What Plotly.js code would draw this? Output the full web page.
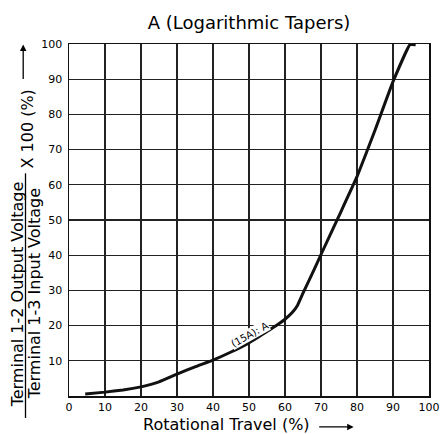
<!DOCTYPE html>
<html>
<head>
<meta charset="utf-8">
<script src="https://cdn.plot.ly/plotly-3.0.1.min.js"></script>
<style>
html,body{margin:0;padding:0;background:#fff;}
#chart{width:441px;height:434px;}
</style>
</head>
<body>
<div id="chart"></div>
<script>
// Data
var travel = [4.5, 10, 15, 20, 25, 30, 35, 40, 45, 50, 55, 58, 60, 62, 63.5, 65, 67.5, 70, 75, 80, 85, 90, 94.7, 96.3];
var output = [0.6, 1.1, 1.7, 2.6, 4.0, 6.2, 8.3, 10.2, 12.5, 15.1, 18.3, 20.3, 21.8, 23.7, 25.8, 29.2, 34.6, 40.2, 51.2, 62.3, 75.5, 89.3, 99.8, 99.8];
var xTicks = [0, 10, 20, 30, 40, 50, 60, 70, 80, 90, 100];
var yTicks = [10, 20, 30, 40, 50, 60, 70, 80, 90, 100];
var titleText = "A (Logarithmic Tapers)";
var xTitle = "Rotational Travel (%)";
var yNumerator = "Terminal 1-2 Output Voltage";
var yDenominator = "Terminal 1-3 Input Voltage";
var yFactor = "X 100 (%)";
var curveLabel = "(15A): A";
var curveLabelPos = [50.2, 17.6];

var FONT = "DejaVu Sans, Verdana, sans-serif";
var L = 69.3, R = 429.3, T = 43.5, B = 396;
var W = R - L, H = B - T;
function px(x){ return (x - L) / W; }
function py(y){ return (B - y) / H; }

var trace = {
  x: travel, y: output, type: 'scatter', mode: 'lines',
  line: {color: '#111', width: 3, shape: 'spline', smoothing: 0.3},
  cliponaxis: false, hoverinfo: 'skip'
};

var layout = {
  width: 441, height: 434,
  margin: {l: L, r: 441 - R, t: T, b: 434 - B, pad: 0},
  paper_bgcolor: '#fff', plot_bgcolor: '#fff',
  showlegend: false,
  font: {family: FONT, color: '#000', size: 11},
  title: {text: titleText, font: {family: FONT, size: 18, color: '#000'},
          xref: 'paper', x: 0.5, xanchor: 'center',
          yref: 'container', y: 1 - 23/434, yanchor: 'middle'},
  xaxis: {range: [0, 100], tickvals: xTicks, ticktext: xTicks.map(String),
          showgrid: true, gridcolor: '#222', gridwidth: 1.3,
          showline: true, mirror: true, linecolor: '#111', linewidth: 1.5,
          ticks: '', zeroline: false, tickfont: {size: 11, family: FONT, color: '#000'},
          fixedrange: true},
  yaxis: {range: [0, 100], tickvals: yTicks, ticktext: yTicks.map(String),
          showgrid: true, gridcolor: '#222', gridwidth: 1.3,
          showline: true, mirror: true, linecolor: '#111', linewidth: 1.5,
          ticks: '', zeroline: false, tickfont: {size: 11, family: FONT, color: '#000'},
          ticklabelstandoff: 3, fixedrange: true},
  annotations: [
    {xref: 'x', yref: 'y', x: curveLabelPos[0], y: curveLabelPos[1], text: curveLabel,
     showarrow: false, textangle: -29, font: {size: 10, family: FONT, color: '#000'},
     bgcolor: '#fff', borderpad: 0},
    {xref: 'paper', yref: 'paper', x: px(226.5), y: py(425), text: xTitle, showarrow: false,
     xanchor: 'center', yanchor: 'middle', font: {size: 16, family: FONT, color: '#000'}},
    {xref: 'paper', yref: 'paper', x: px(354), y: py(427), text: '', showarrow: true,
     ax: -36, ay: 0, arrowhead: 2, arrowsize: 1, arrowwidth: 1.3, arrowcolor: '#000'},
    {xref: 'paper', yref: 'paper', x: px(17.5), y: py(294), text: yNumerator, showarrow: false,
     textangle: -90, xanchor: 'center', yanchor: 'middle', font: {size: 16, family: FONT, color: '#000'}},
    {xref: 'paper', yref: 'paper', x: px(34.5), y: py(294), text: yDenominator, showarrow: false,
     textangle: -90, xanchor: 'center', yanchor: 'middle', font: {size: 16, family: FONT, color: '#000'}},
    {xref: 'paper', yref: 'paper', x: px(28), y: py(170), text: yFactor, showarrow: false,
     textangle: -90, xanchor: 'center', yanchor: 'bottom', font: {size: 16, family: FONT, color: '#000'}},
    {xref: 'paper', yref: 'paper', x: px(23.5), y: py(44), text: '', showarrow: true,
     ax: 0, ay: 36, arrowhead: 2, arrowsize: 1, arrowwidth: 1.3, arrowcolor: '#000'}
  ],
  shapes: [
    {type: 'line', xref: 'paper', yref: 'paper', x0: px(25.8), x1: px(25.8), y0: py(418), y1: py(173),
     line: {color: '#000', width: 1.3}}
  ]
};

Plotly.newPlot('chart', [trace], layout, {displayModeBar: false, staticPlot: true});
</script>
</body>
</html>
